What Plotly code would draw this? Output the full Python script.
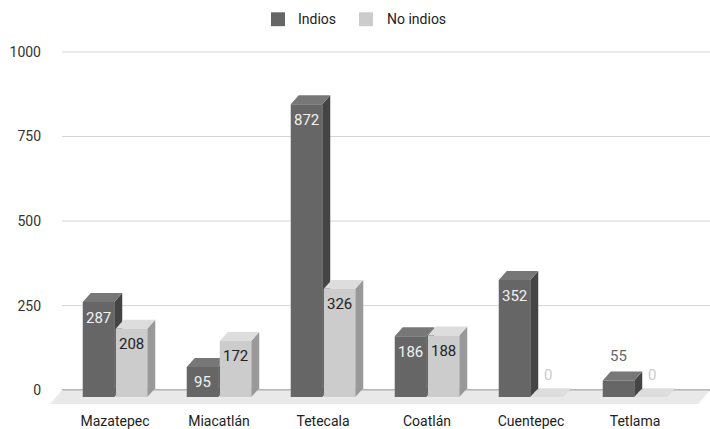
import plotly.graph_objects as go

categories = ["Mazatepec", "Miacatlán", "Tetecala", "Coatlán", "Cuentepec", "Tetlama"]
indios = [287, 95, 872, 186, 352, 55]
no_indios = [208, 172, 326, 188, 0, 0]
series_names = ["Indios", "No indios"]
y_ticks = [0, 250, 500, 750, 1000]

# geometry (pixel-derived constants)
W, H = 710, 429
ML, MR, MT, MB = 50, 0, 48, 15
PW, PH = W - ML - MR, H - MT - MB
PPU = 0.341            # px per data unit (y)
CX0, SPACING = 115, 104  # px of first category center, px per category
DXU = 8 / SPACING       # depth offset in x (category units)
DYU = 9 / PPU           # depth offset in y (data units)
FB = 7 / PPU            # front bottom below zero (data units)
BW = 31.5 / SPACING
OFFS = [-16.5 / SPACING, 16.5 / SPACING]

ymax = 1000 + (52 - MT) / PPU
ymin = -((H - MB) - 393) / PPU
xmin = (ML - CX0) / SPACING
xmax = (W - CX0) / SPACING

front_cols = ["#666666", "#cccccc"]
side_cols = ["#444444", "#999999"]
top_cols = ["#777777", "#dddddd"]
in_text = ["#f2f2f2", "#222222"]
out_text = ["#666666", "#cccccc"]


def px_x(p):
    return (p - ML) / PW


def px_y(p):
    return ((H - MB) - p) / PH


fig = go.Figure()
shapes = []
annotations = []

# floor
fy = -14 / PPU
fdx = 12 / SPACING
shapes.append(dict(type="path", xref="x", yref="y", layer="below",
                   path=f"M {(62-CX0)/SPACING},0 L {xmax},0 L {xmax-fdx},{fy} L {xmin},{fy} Z",
                   fillcolor="#e9e9e9", line=dict(width=0)))
# gridlines
for t in y_ticks:
    shapes.append(dict(type="line", xref="paper", yref="y", layer="below",
                       x0=px_x(62), x1=1, y0=t, y1=t,
                       line=dict(color="#333333" if t == 0 else "#d4d4d4", width=1)))

series = [indios, no_indios]
for s, vals in enumerate(series):
    xs = [i + OFFS[s] for i in range(len(categories))]
    fts = [max(v - DYU, -FB) for v in vals]
    fig.add_trace(go.Bar(
        x=xs, y=[ft + FB for ft in fts], base=[-FB] * len(vals), width=BW,
        name=series_names[s], marker=dict(color=front_cols[s], line=dict(width=0)),
        hoverinfo="skip", showlegend=False))

for i in range(len(categories)):
    for s, vals in enumerate(series):
        v = vals[i]
        xc = i + OFFS[s]
        x0, x1 = xc - BW / 2, xc + BW / 2
        ft = max(v - DYU, -FB)
        bt = ft + DYU
        shapes.append(dict(type="path", xref="x", yref="y", layer="between",
                           path=f"M {x1},{-FB} L {x1+DXU},{-FB+DYU} L {x1+DXU},{bt} L {x1},{ft} Z",
                           fillcolor=side_cols[s], line=dict(width=0)))
        shapes.append(dict(type="path", xref="x", yref="y", layer="between",
                           path=f"M {x0},{ft} L {x0+DXU},{bt} L {x1+DXU},{bt} L {x1},{ft} Z",
                           fillcolor=top_cols[s], line=dict(width=0)))
        front_px = (ft + FB) * PPU
        if front_px > 25:
            annotations.append(dict(x=xc, y=ft, xref="x", yref="y", text=str(v),
                                    showarrow=False, yanchor="middle", yshift=-15.5,
                                    font=dict(family="Roboto", size=15, color=in_text[s])))
        else:
            annotations.append(dict(x=xc, y=v, xref="x", yref="y", text=str(v),
                                    showarrow=False, yanchor="middle", yshift=15.5,
                                    font=dict(family="Roboto", size=15, color=out_text[s])))

# custom legend
leg_sq = [271, 359]
leg_tx = [296, 385]
for s in range(2):
    shapes.append(dict(type="rect", xref="paper", yref="paper", layer="above",
                       x0=px_x(leg_sq[s]), x1=px_x(leg_sq[s] + 14),
                       y0=px_y(26), y1=px_y(12),
                       fillcolor=front_cols[s], line=dict(width=0)))
    annotations.append(dict(x=px_x(leg_tx[s]), y=px_y(19), xref="paper", yref="paper",
                            text=series_names[s], showarrow=False, xanchor="left",
                            yanchor="middle",
                            font=dict(family="Roboto", size=14, color="#222222")))

fig.update_layout(
    width=W, height=H,
    margin=dict(l=ML, r=MR, t=MT, b=MB),
    paper_bgcolor="white", plot_bgcolor="white",
    barmode="overlay",
    font=dict(family="Roboto", size=14, color="#222222"),
    showlegend=False,
    shapes=shapes,
    annotations=annotations,
    xaxis=dict(range=[xmin, xmax], tickvals=list(range(len(categories))),
               ticktext=categories, showgrid=False, zeroline=False, showline=False,
               ticks="", tickfont=dict(family="Roboto", size=14, color="#222222")),
    yaxis=dict(range=[ymin, ymax], tickvals=y_ticks, showgrid=False, zeroline=False,
               showline=False, ticks="", ticklabelstandoff=8,
               tickfont=dict(family="Roboto", size=14, color="#333333")),
)

fig.write_html("out.html")
